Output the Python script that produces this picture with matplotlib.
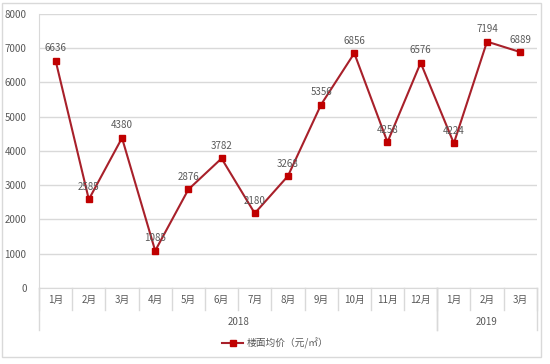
import matplotlib.pyplot as plt
import matplotlib.transforms as mtransforms
from matplotlib.patches import Rectangle
from matplotlib.lines import Line2D

plt.rcParams['font.family'] = ['Noto Sans CJK SC', 'DejaVu Sans']

# data
months = ['1月', '2月', '3月', '4月', '5月', '6月', '7月', '8月', '9月', '10月', '11月', '12月',
          '1月', '2月', '3月']
years = ['2018', '2019']
year_counts = [12, 3]
prices = [6636, 2585, 4380, 1085, 2876, 3782, 2180, 3268, 5356, 6856, 4258, 6576, 4224, 7194, 6889]
series_name = '楼面均价（元/㎡）'

line_color = '#A8202A'
marker_color = '#C00000'
text_color = '#595959'
grid_color = '#D9D9D9'
fs = 7

fig = plt.figure(figsize=(5.5, 3.64), dpi=100)
ax = fig.add_axes([0.071, 0.209, 0.905, 0.7525])

x = list(range(len(prices)))
ax.plot(x, prices, color=line_color, linewidth=1.5, marker='s', markersize=4.5,
        markerfacecolor=marker_color, markeredgecolor=marker_color, label=series_name)

for xi, v in zip(x, prices):
    ax.annotate(str(v), (xi, v), xytext=(0, 9), textcoords='offset points',
                ha='center', va='center', fontsize=fs, color=text_color)

ax.set_xlim(-0.5, len(prices) - 0.5)
ax.set_ylim(0, 8000)
ax.set_yticks(range(0, 8001, 1000))
ax.tick_params(axis='y', length=0, labelsize=fs, labelcolor=text_color, pad=9)
ax.set_xticks([])
ax.yaxis.grid(True, color=grid_color, linewidth=1)
ax.set_axisbelow(True)
for s in ['top', 'right']:
    ax.spines[s].set_visible(False)
ax.spines['left'].set_color(grid_color)
ax.spines['bottom'].set_color(grid_color)

# hierarchical category axis
trans = mtransforms.blended_transform_factory(ax.transData, ax.transAxes)
for i, m in enumerate(months):
    ax.text(i, -0.045, m, transform=trans, ha='center', va='center',
            fontsize=fs, color=text_color)
for i in range(len(months) + 1):
    ax.add_line(Line2D([i - 0.5, i - 0.5], [0, -0.08], transform=trans,
                       color=grid_color, linewidth=1, clip_on=False))
start = 0
for yr, n in zip(years, year_counts):
    ax.text(start + (n - 1) / 2, -0.125, yr, transform=trans, ha='center', va='center',
            fontsize=fs, color=text_color)
    for b in (start, start + n):
        ax.add_line(Line2D([b - 0.5, b - 0.5], [0, -0.155], transform=trans,
                           color=grid_color, linewidth=1, clip_on=False))
    start += n

fig.legend(loc='center', bbox_to_anchor=(0.5, 0.058), frameon=False, fontsize=fs,
           labelcolor=text_color, handlelength=2.2, handletextpad=0.3)

fig.patches.append(Rectangle((0.003, 0.02), 0.98, 0.972, transform=fig.transFigure,
                             fill=False, edgecolor=grid_color, linewidth=1))

fig.savefig('out.png', dpi=100)
